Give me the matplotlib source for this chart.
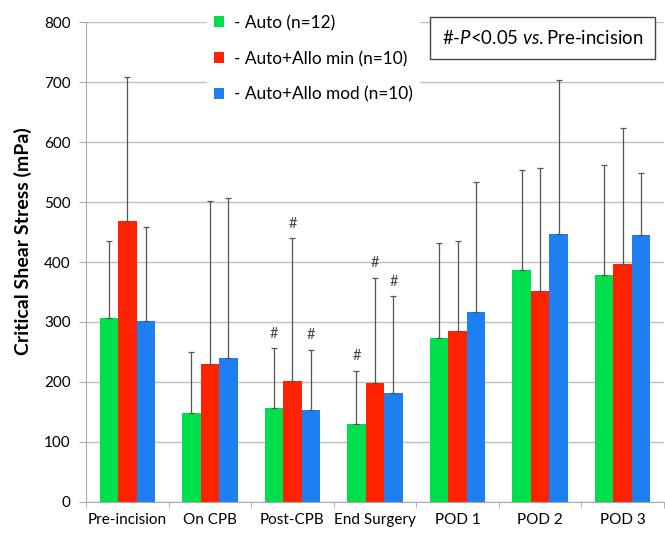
import matplotlib
matplotlib.use("Agg")
import matplotlib.pyplot as plt
import numpy as np

plt.rcParams['font.family'] = ['Lato', 'DejaVu Sans']
plt.rcParams['mathtext.fontset'] = 'custom'
plt.rcParams['mathtext.rm'] = 'Lato'
plt.rcParams['mathtext.it'] = 'Lato:italic'

categories = ["Pre-incision", "On CPB", "Post-CPB", "End Surgery", "POD 1", "POD 2", "POD 3"]
series_names = ["- Auto (n=12)", "- Auto+Allo min (n=10)", "- Auto+Allo mod (n=10)"]
colors = ["#00E04C", "#FF2200", "#1E80F0"]

auto_mean = [307, 148, 157, 130, 273, 386, 378]
auto_err_top = [435, 250, 256, 219, 432, 554, 561]
min_mean = [469, 230, 202, 199, 285, 352, 397]
min_err_top = [708, 501, 440, 374, 435, 557, 624]
mod_mean = [301, 240, 153, 181, 317, 447, 445]
mod_err_top = [459, 506, 254, 343, 534, 703, 549]

# categories where each series differs from Pre-incision
sig_auto = [2, 3]
sig_min = [2, 3]
sig_mod = [2, 3]

means = [auto_mean, min_mean, mod_mean]
tops = [auto_err_top, min_err_top, mod_err_top]
sigs = [sig_auto, sig_min, sig_mod]

fig = plt.figure(figsize=(6.65, 5.37), dpi=100)
ax = fig.add_axes([0.1293, 0.0652, 0.8692, 0.8938])

x = np.arange(len(categories))
w = 0.224
offsets = [-w, 0, w]

for s in range(3):
    m = np.array(means[s])
    t = np.array(tops[s])
    xs = x + offsets[s]
    ax.bar(xs, m, width=w, color=colors[s], zorder=2, label=series_names[s])
    ax.errorbar(xs, m, yerr=[np.zeros_like(m), t - m], fmt='none',
                ecolor='#555555', elinewidth=0.9, capsize=2.2, capthick=0.9, zorder=3)
    for c in sigs[s]:
        ax.text(xs[c], t[c] + 12, "#", ha='center', va='bottom',
                fontsize=10.5, color='#444444', zorder=4)

ax.set_ylim(0, 800)
ax.set_xlim(-0.5, len(categories) - 0.5)
ax.set_yticks(np.arange(0, 801, 100))
ax.set_xticks(x)
ax.set_xticklabels(categories, fontsize=11)
ax.set_xticks(np.arange(-0.5, len(categories), 1.0), minor=True)
ax.tick_params(axis='x', which='major', length=0, pad=8)
ax.tick_params(axis='x', which='minor', length=4, color='#aaaaaa')
ax.tick_params(axis='y', length=5, color='#aaaaaa', labelsize=11, pad=6)
ax.yaxis.grid(True, color='#c0c0c0', linewidth=1.0, zorder=0)
ax.set_axisbelow(True)
for side in ['top', 'right']:
    ax.spines[side].set_visible(False)
ax.spines['left'].set_color('#aaaaaa')
ax.spines['bottom'].set_color('#aaaaaa')

ax.set_ylabel("Critical Shear Stress (mPa)", fontsize=14.0, fontweight='bold')
ax.yaxis.set_label_coords(-0.093, 0.544)

leg = ax.legend(loc='upper left', bbox_to_anchor=(207 / 665, 1 - 8 / 537),
                bbox_transform=fig.transFigure, frameon=True, borderaxespad=0,
                fontsize=12.4, handlelength=0.6, handleheight=0.6, handletextpad=0.55,
                labelspacing=1.15, borderpad=0.4)
leg.get_frame().set_edgecolor('white')
leg.get_frame().set_facecolor('white')
leg.get_frame().set_alpha(1.0)

ax.text(0.79, 0.967, r"#-$\it{P}$<0.05 $\it{vs.}$Pre-incision", transform=ax.transAxes,
        ha='center', va='center', fontsize=13.4, zorder=5,
        bbox=dict(boxstyle='square,pad=0.65', facecolor='white', edgecolor='#444444', linewidth=1.0))

fig.savefig("out.png", dpi=100)
